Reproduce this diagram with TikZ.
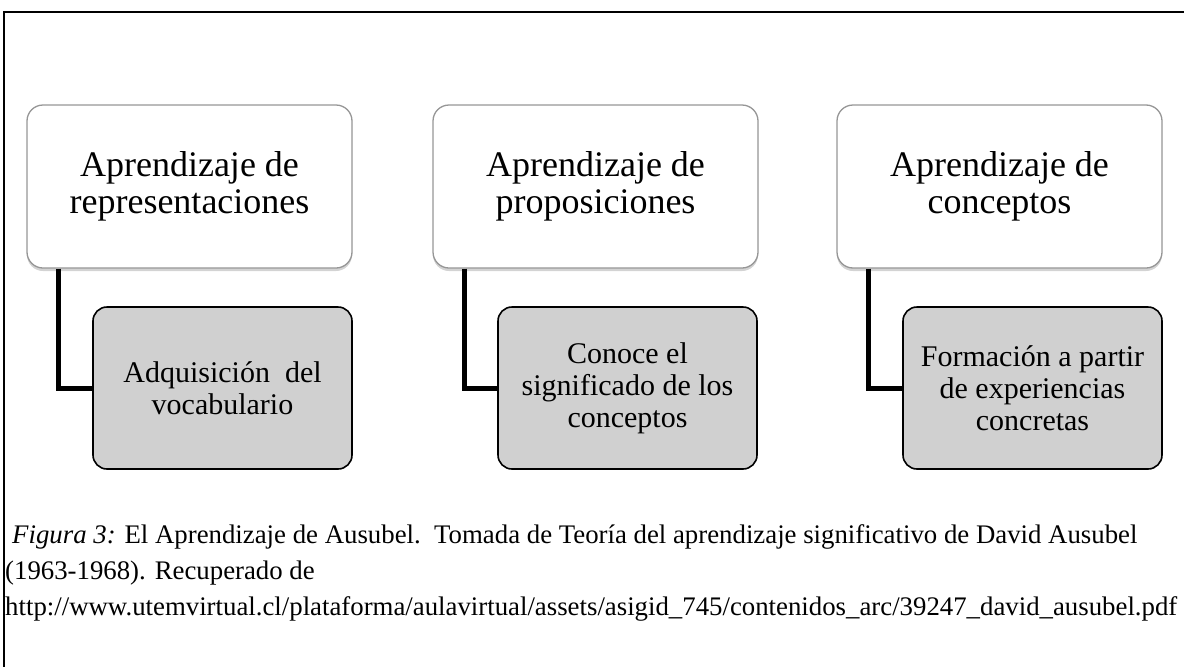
\documentclass[tikz,border=0pt]{standalone}
\usepackage{fontspec}
\setmainfont{Liberation Serif}
\usepackage{xcolor}
\usepackage{tikz}
\usetikzlibrary{positioning,shadows}
\definecolor{kastengrau}{RGB}{208,208,208}
\definecolor{randgrau}{RGB}{150,150,150}

\begin{document}
\begin{tikzpicture}[x=1pt,y=-1pt,
    oben/.style={rectangle, draw=randgrau, line width=1.3pt, fill=white, rounded corners=16pt,
        minimum width=325pt, minimum height=163pt, align=center, inner sep=0pt,
        font=\fontsize{36}{37}\selectfont,
        drop shadow={shadow xshift=0pt, shadow yshift=-3pt, opacity=0.35}},
    unten/.style={rectangle, draw=black, line width=1.6pt, fill=kastengrau, rounded corners=14pt,
        minimum width=259pt, minimum height=162pt, align=center, inner sep=0pt,
        font=\fontsize{30}{32}\selectfont},
    verbinder/.style={line width=5pt, black},
    legende/.style={anchor=base west, inner sep=0pt, font=\fontsize{26.8}{30}\selectfont}]
        % Umgebung
        \useasboundingbox (0,0) rectangle (1184,667);
        % Rahmen
        \draw[line width=2pt] (4,667) -- (4,12) -- (1184,12);
        % Rechteck - Repraesentationen
        \node at (189.5,186.5) [oben] (obenA) {Aprendizaje de\\representaciones};
        % Rechteck - Propositionen
        \node at (595.5,186.5) [oben] (obenB) {Aprendizaje de\\proposiciones};
        % Rechteck - Konzepte
        \node at (999.5,186.5) [oben] (obenC) {Aprendizaje de\\conceptos};
        % graue Rechtecke
        \node at (222.5,388) [unten] (untenA) {Adquisici\'on\ \ del\\vocabulario};
        \node at (627.5,388) [unten] (untenB) {Conoce el\\significado de los\\conceptos};
        \node at (1032.5,388) [unten] (untenC) {Formaci\'on a partir\\de experiencias\\concretas};
        % Verbinder
        \draw[verbinder] ([xshift=32pt]obenA.south west) |- (untenA.west);
        \draw[verbinder] ([xshift=32pt]obenB.south west) |- (untenB.west);
        \draw[verbinder] ([xshift=32pt]obenC.south west) |- (untenC.west);
        % Legende
        \node[legende] at (12,543) (fig) {\textit{Figura 3:} El Aprendizaje de Ausubel.\ \ Tomada de Teoría del aprendizaje significativo de David Ausubel};
        \node[legende] at (5,579) (jahr) {(1963-1968). Recuperado de};
        \node[legende] at (5,615) (url) {http://www.utemvirtual.cl/plataforma/aulavirtual/assets/asigid\_745/contenidos\_arc/39247\_david\_ausubel.pdf};
    \end{tikzpicture}
\end{document}
